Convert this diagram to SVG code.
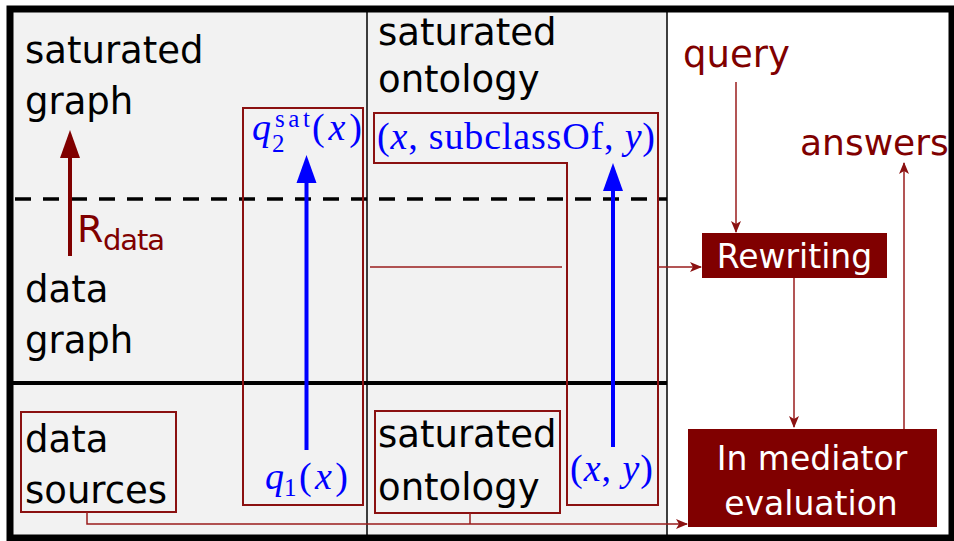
<svg xmlns="http://www.w3.org/2000/svg" width="954" height="541" viewBox="0 0 954 541">
<defs>
<style>
.lbl{font-family:"DejaVu Sans","Open Sans",sans-serif;font-size:37px;fill:#000}
.red{fill:#800000;font-family:"DejaVu Sans","Open Sans",sans-serif}
.wht{font-family:"DejaVu Sans","Open Sans",sans-serif;font-size:33px;fill:#fff;text-anchor:middle}
.m{font-family:"Liberation Serif","DejaVu Serif",serif;fill:#0000ff;font-size:38px}
.ms{font-family:"Liberation Serif","DejaVu Serif",serif;fill:#0000ff;font-size:25px}
.mi{font-style:italic}
.box{fill:none;stroke:#8b1111;stroke-width:2}
.thin{fill:none;stroke:#9a1c1c;stroke-width:1.5}
.sep{stroke:#000;stroke-width:1.5}
</style>
<marker id="ah" markerUnits="userSpaceOnUse" markerWidth="12" markerHeight="10" refX="11" refY="5" orient="auto">
<path d="M0,0 L12,5 L0,10 L3,5 Z" fill="#8b1111"/>
</marker>
</defs>
<rect width="954" height="541" fill="#fff"/>
<rect x="13" y="12" width="654" height="523" fill="#f2f2f2"/>
<g id="frame">
<line x1="367" y1="12" x2="367" y2="535" class="sep"/>
<line x1="667" y1="12" x2="667" y2="535" class="sep"/>
<line x1="13" y1="199" x2="667" y2="199" stroke="#000" stroke-width="3.5" stroke-dasharray="16,12" stroke-dashoffset="-2"/>
<line x1="13" y1="383" x2="667" y2="383" stroke="#000" stroke-width="4"/>
<rect x="10" y="9" width="942" height="529" fill="none" stroke="#000" stroke-width="7"/>
</g>
<g id="saturated-graph"><text class="lbl" x="25" y="63">saturated</text><text class="lbl" x="25" y="114">graph</text></g>
<g id="data-graph"><text class="lbl" x="25" y="302">data</text><text class="lbl" x="25" y="353">graph</text></g>
<g id="rdata">
<line x1="70" y1="256" x2="70" y2="150" stroke="#800000" stroke-width="4"/>
<polygon points="70,130 80,158 60,158" fill="#800000"/>
<text x="77" y="242" font-size="38" class="red">R</text>
<text x="103" y="250" font-size="29" class="red" textLength="62">data</text>
</g>
<g id="data-sources">
<rect x="21" y="412" width="155" height="100" class="box" stroke-width="1.5"/>
<text class="lbl" x="25" y="452">data</text><text class="lbl" x="25" y="503">sources</text>
</g>
<g id="q-box">
<rect x="243" y="108" width="120" height="397" class="box"/>
<text class="m mi" x="252" y="140">q</text>
<text class="ms" x="272" y="152">2</text>
<text class="ms" x="275" y="127" textLength="35">sat</text>
<text class="m" x="312" y="140" textLength="50">(<tspan class="mi">x</tspan>)</text>
<line x1="306.5" y1="450" x2="306.5" y2="175" stroke="#0000ff" stroke-width="4"/>
<polygon points="306.5,155 316.5,183 296.5,183" fill="#0000ff"/>
<text class="m mi" x="265" y="489">q</text>
<text class="ms" x="284" y="496">1</text>
<text class="m" x="299" y="489" textLength="49">(<tspan class="mi">x</tspan>)</text>
</g>
<g id="saturated-ontology-top"><text class="lbl" x="378" y="45">saturated</text><text class="lbl" x="378" y="92">ontology</text></g>
<g id="subclass-box">
<path d="M374,113 H658 V505 H567 V163 H374 Z" class="box"/>
<text class="m" x="377" y="149" textLength="278">(<tspan class="mi">x</tspan>, subclassOf, <tspan class="mi">y</tspan>)</text>
<line x1="613" y1="447" x2="613" y2="183" stroke="#0000ff" stroke-width="4"/>
<polygon points="613,163 623,191 603,191" fill="#0000ff"/>
<text class="m" x="570" y="481" textLength="83">(<tspan class="mi">x</tspan>, <tspan class="mi">y</tspan>)</text>
</g>
<g id="saturated-ontology-bottom">
<rect x="375" y="411" width="185" height="102" class="box" stroke-width="1.5"/>
<text class="lbl" x="378" y="447">saturated</text><text class="lbl" x="378" y="500">ontology</text>
</g>
<g id="query"><text x="683" y="67" font-size="37" class="red">query</text></g>
<g id="answers"><text x="800" y="155" font-size="36" class="red">answers</text></g>
<g id="rewriting">
<rect x="702" y="233" width="185" height="45" fill="#800000"/>
<text class="wht" x="794.5" y="268">Rewriting</text>
</g>
<g id="mediator">
<rect x="688" y="429" width="249" height="98" fill="#800000"/>
<text class="wht" x="812" y="470">In mediator</text>
<text class="wht" x="811" y="515">evaluation</text>
</g>
<g id="connectors">
<line x1="736" y1="82" x2="736" y2="232" class="thin" marker-end="url(#ah)"/>
<line x1="794" y1="278" x2="794" y2="427" class="thin" marker-end="url(#ah)"/>
<line x1="904" y1="429" x2="904" y2="163" class="thin" marker-end="url(#ah)"/>
<line x1="370" y1="267" x2="562" y2="267" class="thin"/>
<line x1="658" y1="267" x2="701" y2="267" class="thin" marker-end="url(#ah)"/>
<path d="M87,512 V524 H687" class="thin" marker-end="url(#ah)"/>
<line x1="470" y1="513" x2="470" y2="524" class="thin"/>
</g>
</svg>
